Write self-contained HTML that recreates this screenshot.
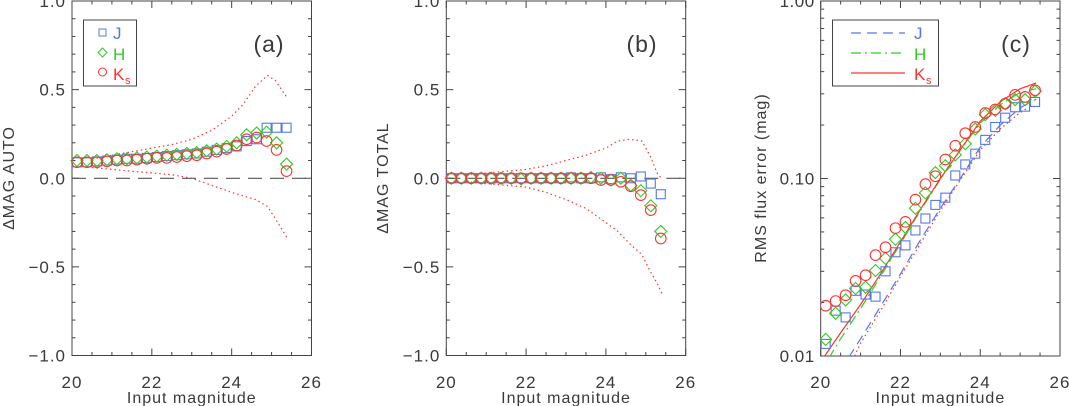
<!DOCTYPE html>
<html><head><meta charset="utf-8"><style>
html,body{margin:0;padding:0;background:#fff;}
svg{display:block;font-family:"Liberation Sans",sans-serif;}
text{fill:#3a3a3a;}
</style></head><body>
<svg id="fig" width="1069" height="406" viewBox="0 0 1069 406" xmlns="http://www.w3.org/2000/svg"></svg>
<script>
const mags = [20.125,20.375,20.625,20.875,21.125,21.375,21.625,21.875,22.125,22.375,22.625,22.875,23.125,23.375,23.625,23.875,24.125,24.375,24.625,24.875,25.125,25.375];
// panel a
const aJ = [0.09,0.09,0.095,0.10,0.105,0.11,0.11,0.115,0.12,0.125,0.13,0.135,0.14,0.15,0.16,0.17,0.18,0.21,0.22,0.285,0.285,0.285];
const aH = [0.10,0.10,0.10,0.105,0.11,0.11,0.115,0.12,0.125,0.13,0.135,0.14,0.145,0.155,0.165,0.18,0.20,0.245,0.255,0.26,0.20,0.08];
const aK = [0.09,0.09,0.09,0.095,0.10,0.10,0.105,0.11,0.115,0.115,0.12,0.125,0.13,0.14,0.15,0.165,0.185,0.22,0.23,0.21,0.16,0.04];
const envX = [20.5,21,21.5,22,22.5,23,23.5,24,24.3,24.6,24.9,25.1,25.4];
const aUp = [0.11,0.13,0.15,0.17,0.19,0.22,0.27,0.35,0.42,0.52,0.58,0.55,0.45];
const aLo = [0.06,0.05,0.04,0.03,0.02,0.0,-0.04,-0.08,-0.10,-0.12,-0.16,-0.23,-0.34];
// panel b
const bJ = [0,0,0,0,0,0,0,0,0,0,0,0,0.005,0,0,0.005,-0.005,0.005,0,0.01,-0.03,-0.09];
const bH = [0,0,0,0,0,0,0,-0.005,0,0,0,0,0,0,0.005,0,-0.01,0,-0.04,-0.07,-0.155,-0.30];
const bK = [0,0,0,0,0,0,0,0,0,0,0,0,0,0,0,-0.01,-0.01,-0.02,-0.045,-0.095,-0.18,-0.34];
const bEnvX = [20.5,21,21.5,22,22.5,23,23.5,24,24.3,24.6,24.9,25.1,25.3,25.4];
const bUp = [0.02,0.03,0.04,0.05,0.07,0.10,0.13,0.17,0.21,0.22,0.21,0.13,0.02,0.0];
const bLo = [-0.02,-0.03,-0.04,-0.05,-0.08,-0.12,-0.17,-0.25,-0.30,-0.37,-0.43,-0.52,-0.60,-0.65];
// panel c
const cJ = [0.0117,0.018,0.0165,0.0233,0.0222,0.0216,0.030,0.0384,0.042,0.051,0.0595,0.071,0.078,0.104,0.120,0.138,0.165,0.195,0.220,0.252,0.254,0.270];
const cH = [0.0124,0.0174,0.0207,0.024,0.0244,0.0303,0.0355,0.0455,0.053,0.068,0.083,0.108,0.118,0.136,0.157,0.190,0.229,0.242,0.264,0.278,0.278,0.310];
const cK = [0.0192,0.0204,0.022,0.0265,0.0285,0.037,0.041,0.0525,0.057,0.076,0.093,0.103,0.128,0.153,0.180,0.195,0.234,0.245,0.264,0.296,0.288,0.314];
const lnKx = [20.1,20.5,21,21.5,22,22.5,23,23.5,24,24.5,25,25.4];
const lnK = [0.0100,0.0135,0.0195,0.029,0.044,0.067,0.100,0.145,0.21,0.27,0.32,0.345];
const lnHx = [20.2,20.5,21,21.5,22,22.5,23,23.5,24,24.5,25,25.4];
const lnH = [0.0097,0.0125,0.0185,0.028,0.043,0.066,0.099,0.145,0.205,0.26,0.305,0.32];
const lnJx = [20.7,21,21.5,22,22.5,23,23.5,24,24.5,25,25.4];
const lnJ = [0.0098,0.0125,0.019,0.029,0.045,0.068,0.10,0.15,0.20,0.25,0.28];
const lnRx = [20.8,21,21.5,22,22.5,23,23.5,24,24.5,25,25.2];
const lnR = [0.0095,0.0118,0.018,0.028,0.043,0.066,0.098,0.145,0.19,0.235,0.25];

const NS="http://www.w3.org/2000/svg";
const svg=document.getElementById('fig');
const BLUE="#5577ee",GREEN="#33cc22",RED="#ff3333",AX="#444";
function el(tag,attrs,parent){const e=document.createElementNS(NS,tag);for(const k in attrs)e.setAttribute(k,attrs[k]);(parent||svg).appendChild(e);return e;}
function txt(s,x,y,attrs,parent){const t=el('text',Object.assign({x:x,y:y},attrs||{}),parent);t.textContent=s;return t;}

function panel(id,x0,x1,y0,y1,ylog){
  const g=el('g',{});
  
  
  const sx=v=>x0+(v-20)/6*(x1-x0);
  let sy;
  if(ylog) sy=v=>y1-(Math.log10(v)+2)/2*(y1-y0);
  else sy=v=>y1-(v+1)/2*(y1-y0);
  const frame=el('rect',{x:x0,y:y0,width:x1-x0,height:y1-y0,fill:'none',stroke:AX,'stroke-width':1},g);
  
  
  for(let m=20;m<=26.001;m+=0.5){
    const X=sx(m),L=(Math.abs(m%2)<1e-6)?7:3.5;
    el('line',{x1:X,y1:y1,x2:X,y2:y1-L,stroke:AX},g);
    el('line',{x1:X,y1:y0,x2:X,y2:y0+L,stroke:AX},g);
  }
  const xl=el('g',{},g);
  
  
  [20,22,24,26].forEach(m=>txt(String(m),sx(m),388,{'font-size':17,'text-anchor':'middle','letter-spacing':1},xl));
  const xt=txt('Input magnitude',(x0+x1)/2,403,{'font-size':16,'text-anchor':'middle','letter-spacing':1},g);
  
  
  const yl=el('g',{},g);
  
  
  if(!ylog){
    for(let i=0;i<=20;i++){
      const v=-1+i*0.1,Y=sy(v),L=(i%5===0)?7:3.5;
      el('line',{x1:x0,y1:Y,x2:x0+L,y2:Y,stroke:AX},g);
      el('line',{x1:x1,y1:Y,x2:x1-L,y2:Y,stroke:AX},g);
    }
    [[-1,'\u22121.0'],[-0.5,'\u22120.5'],[0,'0.0'],[0.5,'0.5'],[1,'1.0']].forEach(p=>txt(p[1],x0-6,sy(p[0])+6,{'font-size':17,'text-anchor':'end','letter-spacing':1},yl));
  } else {
    for(let d=-2;d<0;d++)for(let k=1;k<=10;k++){
      const v=k*Math.pow(10,d),Y=sy(v),L=(k===1||k===10)?7:3.5;
      el('line',{x1:x0,y1:Y,x2:x0+L,y2:Y,stroke:AX},g);
      el('line',{x1:x1,y1:Y,x2:x1-L,y2:Y,stroke:AX},g);
    }
    [[0.01,'0.01'],[0.1,'0.10'],[1,'1.00']].forEach(p=>txt(p[1],x0-6,sy(p[0])+6,{'font-size':17,'text-anchor':'end','letter-spacing':0.5},yl));
  }
  return {g,sx,sy};
}
function polyline(P,xs,ys,color,dash,name){
  const pts=xs.map((x,i)=>P.sx(x).toFixed(1)+','+P.sy(ys[i]).toFixed(1)).join(' ');
  const a={points:pts,fill:'none',stroke:color,'stroke-width':1.2};
  if(dash)a['stroke-dasharray']=dash;
  const l=el('polyline',a,P.g);
  
  
}
function markers(P,ys,kind,color,name){
  const g=el('g',{fill:'none',stroke:color,'stroke-width':1.1},P.g);
  
  
  mags.forEach((m,i)=>{
    const X=P.sx(m),Y=P.sy(ys[i]);
    if(kind==='sq')el('rect',{x:X-4.5,y:Y-4.5,width:9,height:9},g);
    else if(kind==='di')el('polygon',{points:`${X},${Y-6} ${X+6},${Y} ${X},${Y+6} ${X-6},${Y}`},g);
    else el('circle',{cx:X,cy:Y,r:5.3},g);
  });
}
function ylabel(s,x,name){
  const t=txt(s,x,178,{'font-size':16,'text-anchor':'middle','letter-spacing':1,transform:`rotate(-90 ${x} 178)`});
  
  
}

const A=panel('a',72,311.5,1,355.5,false);
polyline(A,[20,26],[0,0],'#555','14,8','zero-line-a');
polyline(A,envX,aUp,RED,'1.5,3','envelope-upper-a');
polyline(A,envX,aLo,RED,'1.5,3','envelope-lower-a');
markers(A,aJ,'sq',BLUE,'series-j-a');
markers(A,aH,'di',GREEN,'series-h-a');
markers(A,aK,'ci',RED,'series-ks-a');
ylabel('\u0394MAG AUTO',14,'y-axis-title-a');
txt('(a)',269,52,{'font-size':23,'text-anchor':'middle','letter-spacing':1},A.g);
const la=el('g',{},A.g);


el('rect',{x:83.5,y:20,width:53,height:66,fill:'none',stroke:AX},la);
el('rect',{x:99,y:29,width:7,height:7,fill:'none',stroke:BLUE},la);
el('polygon',{points:'102.5,48 107,52.5 102.5,57 98,52.5',fill:'none',stroke:GREEN},la);
el('circle',{cx:102.5,cy:72,r:4,fill:'none',stroke:RED},la);
txt('J',113,39,{'font-size':17,style:'fill:'+BLUE},la);
txt('H',113,60,{'font-size':17,style:'fill:'+GREEN},la);
txt('K',113,80,{'font-size':17,style:'fill:'+RED},la);
txt('s',125,84,{'font-size':11,style:'fill:'+RED},la);

const B=panel('b',446.3,685.7,1,355.5,false);
polyline(B,[20,26],[0,0],'#555','14,8','zero-line-b');
polyline(B,bEnvX,bUp,RED,'1.5,3','envelope-upper-b');
polyline(B,bEnvX,bLo,RED,'1.5,3','envelope-lower-b');
markers(B,bJ,'sq',BLUE,'series-j-b');
markers(B,bH,'di',GREEN,'series-h-b');
markers(B,bK,'ci',RED,'series-ks-b');
ylabel('\u0394MAG TOTAL',388,'y-axis-title-b');
txt('(b)',642,52,{'font-size':23,'text-anchor':'middle','letter-spacing':1},B.g);

const C=panel('c',820.7,1060,1,356,true);
const clip=el('clipPath',{id:'cc'});
el('rect',{x:820.7,y:1,width:239.3,height:355},clip);
const cg=C.g;
const inner=el('g',{'clip-path':'url(#cc)'},cg);
C.g=inner;
polyline(C,lnRx,lnR,RED,'1.5,3','fit-dotted-c');
polyline(C,lnJx,lnJ,BLUE,'10,6','fit-j-c');
polyline(C,lnHx,lnH,GREEN,'10,4,2,4','fit-h-c');
polyline(C,lnKx,lnK,RED,null,'fit-ks-c');
markers(C,cJ,'sq',BLUE,'series-j-c');
markers(C,cH,'di',GREEN,'series-h-c');
markers(C,cK,'ci',RED,'series-ks-c');
C.g=cg;
ylabel('RMS flux error (mag)',766,'y-axis-title-c');
txt('(c)',1016,52,{'font-size':23,'text-anchor':'middle','letter-spacing':1},cg);
const lc=el('g',{},cg);


el('rect',{x:832.5,y:20,width:106,height:66,fill:'none',stroke:AX},lc);
el('line',{x1:851,y1:33,x2:905,y2:33,stroke:BLUE,'stroke-dasharray':'10,6','stroke-width':1.2},lc);
el('line',{x1:851,y1:53,x2:905,y2:53,stroke:GREEN,'stroke-dasharray':'10,4,2,4','stroke-width':1.2},lc);
el('line',{x1:851,y1:73,x2:905,y2:73,stroke:RED,'stroke-width':1.2},lc);
txt('J',914,39,{'font-size':17,style:'fill:'+BLUE},lc);
txt('H',914,60,{'font-size':17,style:'fill:'+GREEN},lc);
txt('K',914,80,{'font-size':17,style:'fill:'+RED},lc);
txt('s',926,84,{'font-size':11,style:'fill:'+RED},lc);
</script>
</body></html>
